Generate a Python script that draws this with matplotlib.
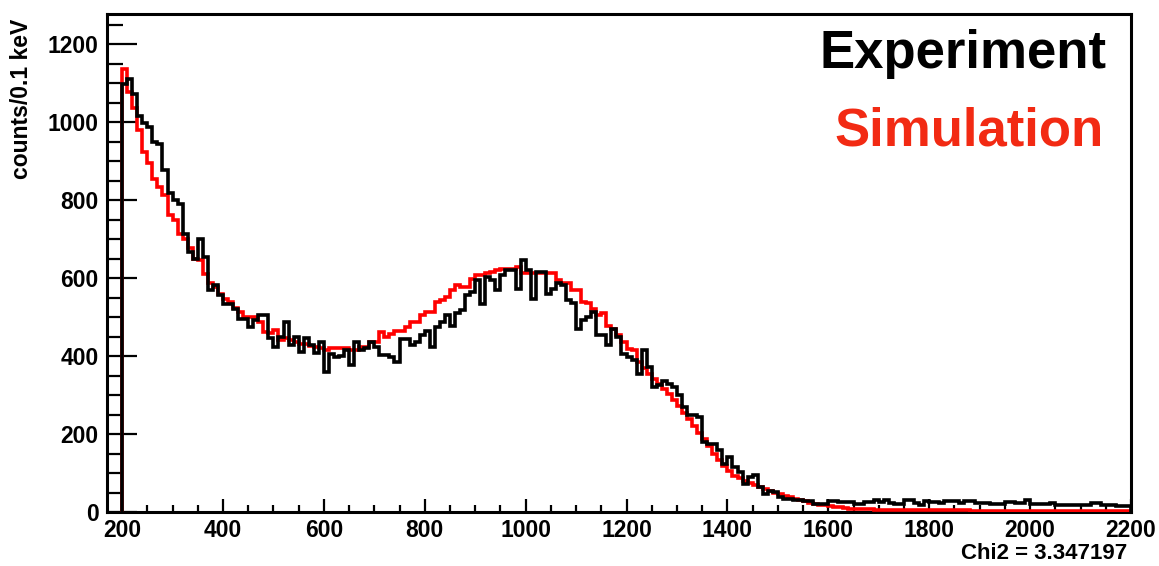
import numpy as np
import matplotlib
matplotlib.use("Agg")
import matplotlib.pyplot as plt
from matplotlib.ticker import MultipleLocator

plt.rcParams['font.family'] = ['Liberation Sans', 'DejaVu Sans']
plt.rcParams['font.weight'] = 'bold'

# bin edges: 200 bins of width 10 from 200 to 2200
bin_lo = 200
bin_hi = 2200
n_bins = 200

experiment = [
    1097, 1110, 1073, 1016, 997, 988, 948, 943, 877, 819,
    800, 791, 714, 667, 648, 699, 654, 569, 581, 556,
    534, 534, 520, 496, 496, 474, 492, 504, 504, 445,
    423, 450, 487, 429, 450, 411, 445, 429, 408, 437,
    359, 406, 397, 400, 415, 376, 436, 415, 420, 436,
    423, 402, 402, 397, 385, 444, 444, 427, 436, 453,
    465, 423, 474, 487, 504, 478, 509, 517, 556, 564,
    594, 534, 603, 594, 568, 607, 620, 620, 573, 646,
    620, 545, 616, 616, 560, 573, 586, 582, 543, 535,
    470, 492, 500, 513, 453, 453, 427, 470, 449, 406,
    397, 389, 354, 415, 372, 320, 325, 337, 329, 320,
    299, 269, 248, 248, 243, 179, 175, 175, 158, 124,
    141, 115, 102, 72, 90, 96, 64, 47, 55, 51,
    38, 34, 34, 30, 30, 29, 29, 21, 21, 21,
    29, 29, 26, 26, 26, 21, 21, 26, 26, 32,
    26, 30, 23, 21, 21, 30, 30, 23, 18, 29,
    26, 26, 22, 27, 27, 27, 22, 27, 27, 24,
    24, 24, 21, 21, 21, 26, 26, 22, 22, 30,
    21, 21, 21, 21, 24, 19, 19, 19, 18, 18,
    18, 18, 24, 24, 18, 18, 18, 16, 16, 16,
]

simulation = [
    1136, 1078, 1035, 979, 924, 894, 855, 834, 812, 761,
    748, 714, 701, 676, 650, 646, 611, 586, 577, 560,
    547, 539, 522, 513, 500, 500, 500, 487, 462, 458,
    466, 441, 445, 440, 436, 432, 430, 425, 423, 420,
    415, 421, 421, 421, 421, 415, 415, 423, 423, 436,
    436, 462, 450, 457, 465, 465, 474, 487, 487, 504,
    513, 513, 539, 543, 552, 568, 581, 577, 577, 598,
    607, 607, 612, 616, 620, 624, 624, 624, 628, 612,
    612, 612, 612, 612, 612, 612, 595, 586, 586, 568,
    568, 539, 535, 521, 504, 509, 478, 470, 453, 436,
    419, 415, 385, 368, 354, 340, 328, 316, 302, 288,
    272, 255, 238, 220, 203, 186, 168, 150, 134, 118,
    104, 93, 86, 80, 75, 70, 64, 60, 55, 50,
    45, 42, 38, 34, 31, 28, 24, 21, 19, 17,
    15, 14, 12, 10, 8, 8, 7, 7, 7, 6,
    6, 6, 6, 5, 5, 5, 5, 5, 4, 4,
    4, 4, 4, 4, 4, 4, 4, 4, 3, 3,
    3, 3, 3, 3, 3, 3, 3, 3, 3, 3,
    3, 3, 3, 3, 3, 3, 3, 3, 3, 3,
    3, 3, 3, 3, 3, 3, 3, 3, 3, 3,
]

chi2_text = "Chi2 = 3.347197"

edges = np.linspace(bin_lo, bin_hi, n_bins + 1)

fig = plt.figure(figsize=(11.59, 5.66), dpi=100)
ax = fig.add_axes([0.0923, 0.0954, 0.8835, 0.8799])

ax.stairs(simulation, edges, baseline=0, color='#ff0000', lw=2.6, zorder=3)
ax.stairs(experiment, edges, baseline=0, color='black', lw=2.6, zorder=4)

ax.set_xlim(170, 2200)
ax.set_ylim(0, 1277)

for s in ax.spines.values():
    s.set_linewidth(2.2)

ax.xaxis.set_major_locator(MultipleLocator(200))
ax.xaxis.set_minor_locator(MultipleLocator(50))
ax.yaxis.set_major_locator(MultipleLocator(200))
ax.yaxis.set_minor_locator(MultipleLocator(50))

ax.tick_params(axis='x', which='major', direction='in', length=9.5, width=1.6,
               labelsize=16.5, pad=5, top=False)
ax.tick_params(axis='x', which='minor', direction='in', length=4.7, width=1.6, top=False)
ax.tick_params(axis='y', which='major', direction='in', length=21.5, width=1.6,
               labelsize=16.5, pad=6, right=False)
ax.tick_params(axis='y', which='minor', direction='in', length=11.5, width=1.6, right=False)

for lab in ax.get_xticklabels() + ax.get_yticklabels():
    lab.set_fontweight('bold')

ax.set_ylabel("counts/0.1 keV", fontsize=16.5, fontweight='bold', labelpad=8)
ax.yaxis.set_label_coords(-0.072, 0.83)

fig.text(0.9545, 0.904, "Experiment", ha='right', va='center',
         fontsize=38, fontweight='bold', color='black')
fig.text(0.952, 0.768, "Simulation", ha='right', va='center',
         fontsize=38, fontweight='bold', color='#f22a13')
fig.text(0.973, 0.022, chi2_text, ha='right', va='center',
         fontsize=16, fontweight='bold', color='black')

fig.savefig("out.png", dpi=100)
